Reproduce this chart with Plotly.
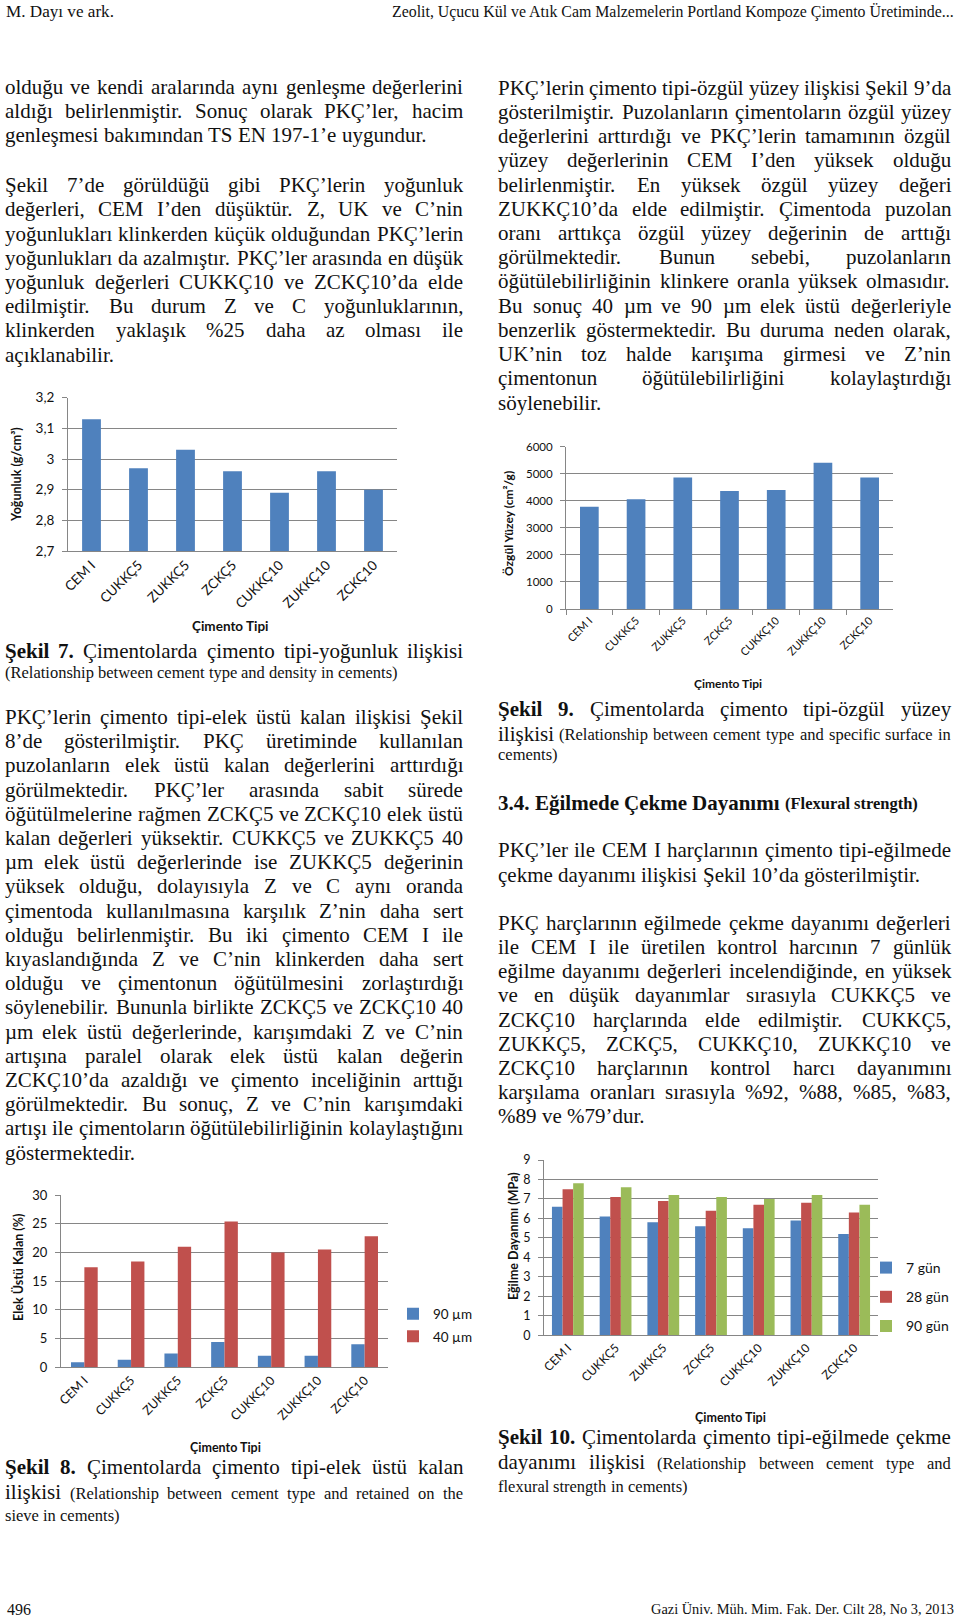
import plotly.graph_objects as go

W, H = 960, 1622

# ---------------- chart data ----------------
cement_types = ["CEM I", "CUKKÇ5", "ZUKKÇ5", "ZCKÇ5", "CUKKÇ10", "ZUKKÇ10", "ZCKÇ10"]

density = [3.13, 2.97, 3.03, 2.96, 2.89, 2.96, 2.90]
density_tickvals = [2.7, 2.8, 2.9, 3.0, 3.1, 3.2]
density_ticktext = ["2,7", "2,8", "2,9", "3", "3,1", "3,2"]

specific_surface = [3780, 4060, 4860, 4360, 4400, 5410, 4860]
surface_tickvals = [0, 1000, 2000, 3000, 4000, 5000, 6000]

sieve_90 = [0.9, 1.3, 2.4, 4.4, 2.0, 2.0, 4.0]
sieve_40 = [17.4, 18.4, 21.0, 25.4, 20.0, 20.5, 22.8]
sieve_tickvals = [0, 5, 10, 15, 20, 25, 30]
sieve_names = ["90 µm", "40 µm"]

flex_7 = [6.6, 6.1, 5.8, 5.6, 5.5, 5.9, 5.2]
flex_28 = [7.5, 7.1, 6.9, 6.4, 6.7, 6.8, 6.3]
flex_90 = [7.8, 7.6, 7.2, 7.1, 7.0, 7.2, 6.7]
flex_tickvals = [0, 1, 2, 3, 4, 5, 6, 7, 8, 9]
flex_names = ["7 gün", "28 gün", "90 gün"]

# ---------------- page text ----------------
header_left = "M. Dayı ve ark."
header_right = "Zeolit, Uçucu Kül ve Atık Cam Malzemelerin Portland Kompoze Çimento Üretiminde..."
footer_left = "496"
footer_right = "Gazi Üniv. Müh. Mim. Fak. Der. Cilt 28, No 3, 2013"

# (runs, justified)  style: r=regular, b=bold, s=small, bs=bold small
left_para1 = [
    ([("olduğu ve kendi aralarında aynı genleşme değerlerini", "r")], True),
    ([("aldığı belirlenmiştir. Sonuç olarak PKÇ’ler, hacim", "r")], True),
    ([("genleşmesi bakımından TS EN 197-1’e uygundur.", "r")], False),
]
left_para2 = [
    ([("Şekil 7’de görüldüğü gibi PKÇ’lerin yoğunluk", "r")], True),
    ([("değerleri, CEM I’den düşüktür. Z, UK ve C’nin", "r")], True),
    ([("yoğunlukları klinkerden küçük olduğundan PKÇ’lerin", "r")], True),
    ([("yoğunlukları da azalmıştır. PKÇ’ler arasında en düşük", "r")], True),
    ([("yoğunluk değerleri CUKKÇ10 ve ZCKÇ10’da elde", "r")], True),
    ([("edilmiştir. Bu durum Z ve C yoğunluklarının,", "r")], True),
    ([("klinkerden yaklaşık %25 daha az olması ile", "r")], True),
    ([("açıklanabilir.", "r")], False),
]
caption7 = [
    ([("Şekil 7.", "b"), ("Çimentolarda çimento tipi-yoğunluk ilişkisi", "r")], True),
    ([("(Relationship between cement type and density in cements)", "s")], False),
]
left_para3 = [
    ([("PKÇ’lerin çimento tipi-elek üstü kalan ilişkisi Şekil", "r")], True),
    ([("8’de gösterilmiştir. PKÇ üretiminde kullanılan", "r")], True),
    ([("puzolanların elek üstü kalan değerlerini arttırdığı", "r")], True),
    ([("görülmektedir. PKÇ’ler arasında sabit sürede", "r")], True),
    ([("öğütülmelerine rağmen ZCKÇ5 ve ZCKÇ10 elek üstü", "r")], True),
    ([("kalan değerleri yüksektir. CUKKÇ5 ve ZUKKÇ5 40", "r")], True),
    ([("µm elek üstü değerlerinde ise ZUKKÇ5 değerinin", "r")], True),
    ([("yüksek olduğu, dolayısıyla Z ve C aynı oranda", "r")], True),
    ([("çimentoda kullanılmasına karşılık Z’nin daha sert", "r")], True),
    ([("olduğu belirlenmiştir. Bu iki çimento CEM I ile", "r")], True),
    ([("kıyaslandığında Z ve C’nin klinkerden daha sert", "r")], True),
    ([("olduğu ve çimentonun öğütülmesini zorlaştırdığı", "r")], True),
    ([("söylenebilir. Bununla birlikte ZCKÇ5 ve ZCKÇ10 40", "r")], True),
    ([("µm elek üstü değerlerinde, karışımdaki Z ve C’nin", "r")], True),
    ([("artışına paralel olarak elek üstü kalan değerin", "r")], True),
    ([("ZCKÇ10’da azaldığı ve çimento inceliğinin arttığı", "r")], True),
    ([("görülmektedir. Bu sonuç, Z ve C’nin karışımdaki", "r")], True),
    ([("artışı ile çimentoların öğütülebilirliğinin kolaylaştığını", "r")], True),
    ([("göstermektedir.", "r")], False),
]
caption8 = [
    ([("Şekil 8.", "b"), ("Çimentolarda çimento tipi-elek üstü kalan", "r")], True),
    ([("ilişkisi", "r"), ("(Relationship between cement type and retained on the", "s")], True),
    ([("sieve in cements)", "s")], False),
]
right_para1 = [
    ([("PKÇ’lerin çimento tipi-özgül yüzey ilişkisi Şekil 9’da", "r")], True),
    ([("gösterilmiştir. Puzolanların çimentoların özgül yüzey", "r")], True),
    ([("değerlerini arttırdığı ve PKÇ’lerin tamamının özgül", "r")], True),
    ([("yüzey değerlerinin CEM I’den yüksek olduğu", "r")], True),
    ([("belirlenmiştir. En yüksek özgül yüzey değeri", "r")], True),
    ([("ZUKKÇ10’da elde edilmiştir. Çimentoda puzolan", "r")], True),
    ([("oranı arttıkça özgül yüzey değerinin de arttığı", "r")], True),
    ([("görülmektedir. Bunun sebebi, puzolanların", "r")], True),
    ([("öğütülebilirliğinin klinkere oranla yüksek olmasıdır.", "r")], True),
    ([("Bu sonuç 40 µm ve 90 µm elek üstü değerleriyle", "r")], True),
    ([("benzerlik göstermektedir. Bu duruma neden olarak,", "r")], True),
    ([("UK’nin toz halde karışıma girmesi ve Z’nin", "r")], True),
    ([("çimentonun öğütülebilirliğini kolaylaştırdığı", "r")], True),
    ([("söylenebilir.", "r")], False),
]
caption9 = [
    ([("Şekil 9.", "b"), ("Çimentolarda çimento tipi-özgül yüzey", "r")], True),
    ([("ilişkisi", "r"), ("(Relationship between cement type and specific surface in", "s")], True),
    ([("cements)", "s")], False),
]
heading34 = [
    ([("3.4. Eğilmede Çekme Dayanımı", "b"), ("(Flexural strength)", "bs")], False),
]
right_para2 = [
    ([("PKÇ’ler ile CEM I harçlarının çimento tipi-eğilmede", "r")], True),
    ([("çekme dayanımı ilişkisi Şekil 10’da gösterilmiştir.", "r")], False),
]
right_para3 = [
    ([("PKÇ harçlarının eğilmede çekme dayanımı değerleri", "r")], True),
    ([("ile CEM I ile üretilen kontrol harcının 7 günlük", "r")], True),
    ([("eğilme dayanımı değerleri incelendiğinde, en yüksek", "r")], True),
    ([("ve en düşük dayanımlar sırasıyla CUKKÇ5 ve", "r")], True),
    ([("ZCKÇ10 harçlarında elde edilmiştir. CUKKÇ5,", "r")], True),
    ([("ZUKKÇ5, ZCKÇ5, CUKKÇ10, ZUKKÇ10 ve", "r")], True),
    ([("ZCKÇ10 harçlarının kontrol harcı dayanımını", "r")], True),
    ([("karşılama oranları sırasıyla %92, %88, %85, %83,", "r")], True),
    ([("%89 ve %79’dur.", "r")], False),
]
caption10 = [
    ([("Şekil 10.", "b"), ("Çimentolarda çimento tipi-eğilmede çekme", "r")], True),
    ([("dayanımı ilişkisi", "r"), ("(Relationship between cement type and", "s")], True),
    ([("flexural strength in cements)", "s")], False),
]

# ---------------- styling ----------------
SERIF = "Liberation Serif, 'Times New Roman', serif"
SANS = "Lato, Carlito, Calibri, sans-serif"
GRID = "#868686"
BLUE, RED, GREEN = "#4F81BD", "#C0504D", "#9BBB59"
TXT = "#111111"
SIZES = {"r": 21, "b": 21, "s": 16.5, "bs": 16.5}

REG = {" ": 250, "%": 833, "(": 333, ")": 333, ",": 250, "-": 333, ".": 250, "/": 278,
       ":": 278, "’": 333, "'": 180, "…": 1000, "µ": 500,
       "ı": 278, "ş": 389, "ç": 444, "ğ": 500, "ü": 500, "ö": 500,
       "Ç": 667, "Ş": 556, "Ü": 722, "Ö": 722, "İ": 333}
for c in "0123456789":
    REG[c] = 500
for c, w in zip("ABCDEFGHIJKLMNOPQRSTUVWXYZ",
                [722, 667, 667, 722, 611, 556, 722, 722, 333, 389, 722, 611, 889, 722, 722, 556,
                 722, 667, 556, 611, 722, 722, 944, 722, 722, 611]):
    REG[c] = w
for c, w in zip("abcdefghijklmnopqrstuvwxyz",
                [444, 500, 444, 500, 444, 333, 500, 500, 278, 278, 500, 278, 778, 500, 500, 500,
                 500, 333, 389, 278, 500, 500, 722, 500, 500, 444]):
    REG[c] = w
BOLD = {" ": 250, "%": 1000, "(": 333, ")": 333, ",": 250, "-": 333, ".": 250, "/": 278,
        ":": 333, "’": 333, "ı": 278, "ş": 389, "ç": 444, "ğ": 500, "ü": 556, "ö": 500,
        "Ç": 722, "Ş": 556, "Ü": 722, "Ö": 778}
for c in "0123456789":
    BOLD[c] = 500
for c, w in zip("ABCDEFGHIJKLMNOPQRSTUVWXYZ",
                [722, 667, 722, 722, 667, 611, 778, 778, 389, 500, 778, 667, 944, 722, 778, 611,
                 778, 722, 556, 667, 722, 722, 1000, 722, 722, 667]):
    BOLD[c] = w
for c, w in zip("abcdefghijklmnopqrstuvwxyz",
                [500, 556, 444, 556, 444, 333, 500, 556, 278, 333, 556, 278, 833, 556, 500, 556,
                 556, 444, 389, 333, 556, 500, 722, 500, 500, 444]):
    BOLD[c] = w


def text_width(s, size, bold=False):
    tbl = BOLD if bold else REG
    return sum(tbl.get(ch, 500) for ch in s) * size / 1000.0


annotations = []


def px(x):
    return x / W


def py(y):
    return 1 - y / H


def add_line(x0, x1, y, runs, justify):
    words = []
    for text, st in runs:
        for wd in text.split(" "):
            if wd:
                words.append((wd, st))
    n = len(words)
    widths = [text_width(wd, SIZES[st], st in ("b", "bs")) for wd, st in words]
    if justify and n > 1:
        g = max(2.0, (x1 - x0 - sum(widths)) / (n - 1))
        gaps = [g] * (n - 1)
    else:
        gaps = [text_width(" ", SIZES[words[i][1]]) for i in range(n - 1)]
    x = x0
    for i, (wd, st) in enumerate(words):
        t = "<b>%s</b>" % wd if st in ("b", "bs") else wd
        yy = y + (1.0 if SIZES[st] < 20 else 0.0)
        annotations.append(dict(text=t, x=px(x), y=py(yy), xref="paper", yref="paper",
                                xanchor="left", yanchor="middle", showarrow=False,
                                borderpad=0, font=dict(family=SERIF, size=SIZES[st], color=TXT)))
        if i < n - 1:
            x += widths[i] + gaps[i]


def add_block(x0, x1, ys, lines):
    for y, (runs, j) in zip(ys, lines):
        add_line(x0, x1, y, runs, j)


LX0, LX1 = 4, 462
RX0, RX1 = 497, 950
P = 24.2

add_block(LX0, LX1, [86.9 + P * k for k in range(3)], left_para1)
add_block(LX0, LX1, [185.2 + P * k for k in range(8)], left_para2)
add_block(LX0, LX1, [650.5, 671.5], caption7)
add_block(LX0, LX1, [716.9 + P * k for k in range(19)], left_para3)
add_block(LX0, LX1, [1467, 1492, 1514], caption8)

add_block(RX0, RX1, [87.9 + P * k for k in range(14)], right_para1)
add_block(RX0, RX1, [709, 733.5, 753.5], caption9)
add_block(RX0, RX1, [802.8], heading34)
add_block(RX0, RX1, [850.4, 874.6], right_para2)
add_block(RX0, RX1, [922.8 + P * k for k in range(9)], right_para3)
add_block(RX0, RX1, [1437, 1462, 1485], caption10)


def fit_text(s, x, y, target_w, anchor):
    size = target_w / (text_width(s, 1.0) or 1)
    annotations.append(dict(text=s, x=px(x), y=py(y), xref="paper", yref="paper",
                            xanchor=anchor, yanchor="middle", showarrow=False, borderpad=0,
                            font=dict(family=SERIF, size=size, color=TXT)))


fit_text(header_left, 5, 11.5, 108, "left")
fit_text(header_right, 955, 11.5, 563, "right")
fit_text(footer_left, 6, 1609, 24, "left")
fit_text(footer_right, 955, 1609, 305, "right")


def sans_note(text, x, y, size, angle=0):
    annotations.append(dict(text="<b>%s</b>" % text, x=px(x), y=py(y), xref="paper", yref="paper",
                            xanchor="center", yanchor="middle", showarrow=False, textangle=angle,
                            font=dict(family=SANS, size=size, color=TXT)))


# axis titles
sans_note("Çimento Tipi", 230, 626, 13.5)
sans_note("Yoğunluk (g/cm³)", 16, 475, 12.5, -90)
sans_note("Çimento Tipi", 728, 683, 12)
sans_note("Özgül Yüzey (cm²/g)", 508, 524, 12, -90)
sans_note("Çimento Tipi", 225, 1447, 12.5)
sans_note("Elek Üstü Kalan (%)", 18, 1268, 12.5, -90)
sans_note("Çimento Tipi", 730, 1417, 12.5)
sans_note("Eğilme Dayanımı (MPa)", 513, 1236, 12.5, -90)

# ---------------- figure ----------------
fig = go.Figure()

fig.add_trace(go.Bar(x=cement_types, y=density, marker=dict(color=BLUE, line=dict(width=0)),
                     width=0.4, offset=-0.2, xaxis="x", yaxis="y", showlegend=False))
fig.add_trace(go.Bar(x=cement_types, y=specific_surface, marker=dict(color=BLUE, line=dict(width=0)),
                     width=0.4, offset=-0.2, xaxis="x2", yaxis="y2", showlegend=False))
fig.add_trace(go.Bar(x=cement_types, y=sieve_90, name=sieve_names[0], marker=dict(color=BLUE, line=dict(width=0)),
                     width=0.2857, offset=-0.2857, xaxis="x3", yaxis="y3", legend="legend",
                     legendgroup="s90"))
fig.add_trace(go.Bar(x=cement_types, y=sieve_40, name=sieve_names[1], marker=dict(color=RED, line=dict(width=0)),
                     width=0.2857, offset=0.0, xaxis="x3", yaxis="y3", legend="legend",
                     legendgroup="s40"))
for vals, nm, col, off in [(flex_7, flex_names[0], BLUE, -0.3333), (flex_28, flex_names[1], RED, -0.1111),
                           (flex_90, flex_names[2], GREEN, 0.1111)]:
    fig.add_trace(go.Bar(x=cement_types, y=vals, name=nm, marker=dict(color=col, line=dict(width=0)),
                         width=0.2222, offset=off, xaxis="x4", yaxis="y4", legend="legend2",
                         legendgroup=nm))


def xax(x0, x1, fs, anchor, ticks=False):
    d = dict(domain=[px(x0), px(x1)], anchor=anchor, type="category", range=[-0.5, 6.5],
             showline=True, linecolor=GRID, linewidth=1, showgrid=False, zeroline=False,
             tickangle=-45, tickfont=dict(family=SANS, size=fs, color=TXT), fixedrange=True,
             categoryorder="array", categoryarray=cement_types, automargin=False)
    if ticks:
        d.update(ticks="outside", ticklen=5, tickcolor=GRID, tickson="boundaries")
    return d


def yax(top, bottom, rng, tv, tt, fs, anchor):
    return dict(domain=[py(bottom), py(top)], anchor=anchor, range=rng, tickvals=tv, ticktext=tt,
                showgrid=True, gridcolor=GRID, gridwidth=1, showline=True, linecolor=GRID,
                ticks="outside", ticklen=5, tickcolor=GRID, zeroline=False, ticklabelstandoff=5,
                tickfont=dict(family=SANS, size=fs, color=TXT), fixedrange=True, automargin=False)


fig.update_layout(
    width=W, height=H, autosize=False,
    margin=dict(l=0, r=0, t=0, b=0, pad=0, autoexpand=False),
    paper_bgcolor="white", plot_bgcolor="white",
    barmode="group",
    xaxis=xax(68, 397, 13.5, "y"),
    yaxis=yax(397.7, 551, [2.7, 3.2], density_tickvals, density_ticktext, 13.5, "x"),
    xaxis2=xax(566, 893, 11, "y2", ticks=True),
    yaxis2=yax(446.7, 609, [0, 6000], surface_tickvals, [str(v) for v in surface_tickvals], 11.5, "x2"),
    xaxis3=xax(61, 388, 12.5, "y3"),
    yaxis3=yax(1195, 1367.3, [0, 30], sieve_tickvals, [str(v) for v in sieve_tickvals], 13, "x3"),
    xaxis4=xax(544, 878, 12, "y4"),
    yaxis4=yax(1160, 1335.3, [0, 9], flex_tickvals, [str(v) for v in flex_tickvals], 12.5, "x4"),
    legend=dict(x=px(393), y=py(1325.5), xanchor="left", yanchor="middle",
                font=dict(family=SANS, size=13.5, color=TXT), bgcolor="rgba(0,0,0,0)",
                traceorder="grouped", tracegroupgap=2, itemwidth=30),
    legend2=dict(x=px(866), y=py(1297), xanchor="left", yanchor="middle",
                 font=dict(family=SANS, size=14, color=TXT), bgcolor="rgba(0,0,0,0)",
                 traceorder="grouped", tracegroupgap=8, itemwidth=30),
    annotations=annotations,
    showlegend=True,
)

fig.write_html("out.html",
               config={"displayModeBar": False},
               post_script="document.body.style.margin='0';document.body.style.overflow='hidden';")
